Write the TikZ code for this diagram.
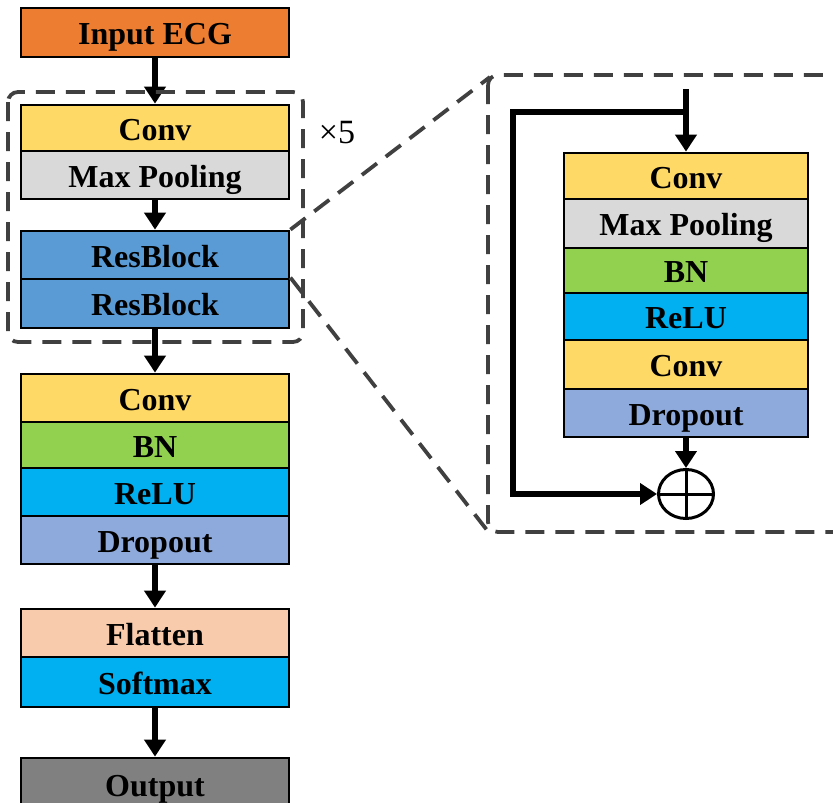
\documentclass[tikz,border=0pt]{standalone}
\usepackage{fontspec}
\setmainfont{Liberation Serif}
\usetikzlibrary{arrows.meta,shapes.geometric}
\definecolor{cOrange}{HTML}{ED7D31}
\definecolor{cYellow}{HTML}{FFD966}
\definecolor{cGray}{HTML}{D9D9D9}
\definecolor{cRes}{HTML}{5B9BD5}
\definecolor{cGreen}{HTML}{92D050}
\definecolor{cCyan}{HTML}{00B0F0}
\definecolor{cDrop}{HTML}{8EA9DB}
\definecolor{cPeach}{HTML}{F8CBAD}
\definecolor{cOut}{HTML}{808080}
\definecolor{cDash}{HTML}{404040}
\tikzset{
  blk/.style={draw=black, line width=2.8pt, minimum width=268pt, minimum height=48pt, inner sep=0pt,
    text height=27pt, text depth=3pt,
    font=\fontsize{32}{36}\selectfont\bfseries, text=black},
  rblk/.style={blk, minimum width=244pt},
  flow/.style={line width=6pt, -{Triangle[length=17pt,width=21pt]}},
  dashbox/.style={draw=cDash, line width=3.8pt, dash pattern=on 19pt off 11pt},
}
\begin{document}
\begin{tikzpicture}[x=1pt,y=-1pt]
\useasboundingbox (0,0) rectangle (833,803);
\clip (0,0) rectangle (833,803);
% left column
\node[blk, fill=cOrange, minimum height=49pt] (inp) at (155,32.5) {Input ECG};
\node[blk, fill=cYellow, minimum height=46pt] (c1) at (155,128) {Conv};
\node[blk, fill=cGray] (mp1) at (155,175) {Max Pooling};
\node[blk, fill=cRes] (rb1) at (155,255) {ResBlock};
\node[blk, fill=cRes, minimum height=49pt] (rb2) at (155,303.5) {ResBlock};
\node[blk, fill=cYellow] (c2) at (155,398) {Conv};
\node[blk, fill=cGreen, minimum height=46pt] (bn2) at (155,445) {BN};
\node[blk, fill=cCyan] (re2) at (155,492) {ReLU};
\node[blk, fill=cDrop] (dr2) at (155,540) {Dropout};
\node[blk, fill=cPeach] (fl) at (155,633) {Flatten};
\node[blk, fill=cCyan, minimum height=50pt] (sm) at (155,682) {Softmax};
\node[blk, fill=cOut, minimum height=52pt] (out) at (155,784) {Output};
\draw[flow] (inp.south) -- (c1.north);
\draw[flow] (mp1.south) -- (rb1.north);
\draw[flow] (rb2.south) -- (c2.north);
\draw[flow] (dr2.south) -- (fl.north);
\draw[flow] (sm.south) -- (out.north);
% repeat box
\draw[dashbox, rounded corners=10pt] (8,92) rectangle (303,342);
\node[font=\fontsize{34}{38}\selectfont, anchor=center] (x5) at (337,133) {×5};
% zoomed box
\draw[dashbox, rounded corners=10pt] (488,75) rectangle (870,532);
\coordinate (ztl) at (490,77);
\coordinate (zbl) at (490,534);
\draw[dashbox] (rb1.north east) -- (ztl);
\draw[dashbox] (rb2.north east) -- (zbl);
% inner res block
\node[rblk, fill=cYellow, minimum height=46pt] (ic1) at (686,176) {Conv};
\node[rblk, fill=cGray, minimum height=49pt] (imp) at (686,223.5) {Max Pooling};
\node[rblk, fill=cGreen, minimum height=45pt] (ibn) at (686,270.5) {BN};
\node[rblk, fill=cCyan, minimum height=47pt] (ire) at (686,316.5) {ReLU};
\node[rblk, fill=cYellow, minimum height=49pt] (ic2) at (686,364.5) {Conv};
\node[rblk, fill=cDrop] (idr) at (686,413) {Dropout};
\node[ellipse, draw=black, line width=3pt, minimum width=55pt, minimum height=49pt, inner sep=0pt] (plus) at (686,494) {};
\draw[line width=3pt] (plus.north) -- (plus.south) (plus.west) -- (plus.east);
\coordinate (itop) at (686,89);
\coordinate (isplit) at (686,112);
\coordinate (iskip) at (513,112);
\draw[flow] (itop) -- (ic1.north);
\draw[flow] (idr.south) -- (plus.north);
\draw[flow] (isplit) -- (iskip) |- (plus.west);
\end{tikzpicture}
\end{document}
